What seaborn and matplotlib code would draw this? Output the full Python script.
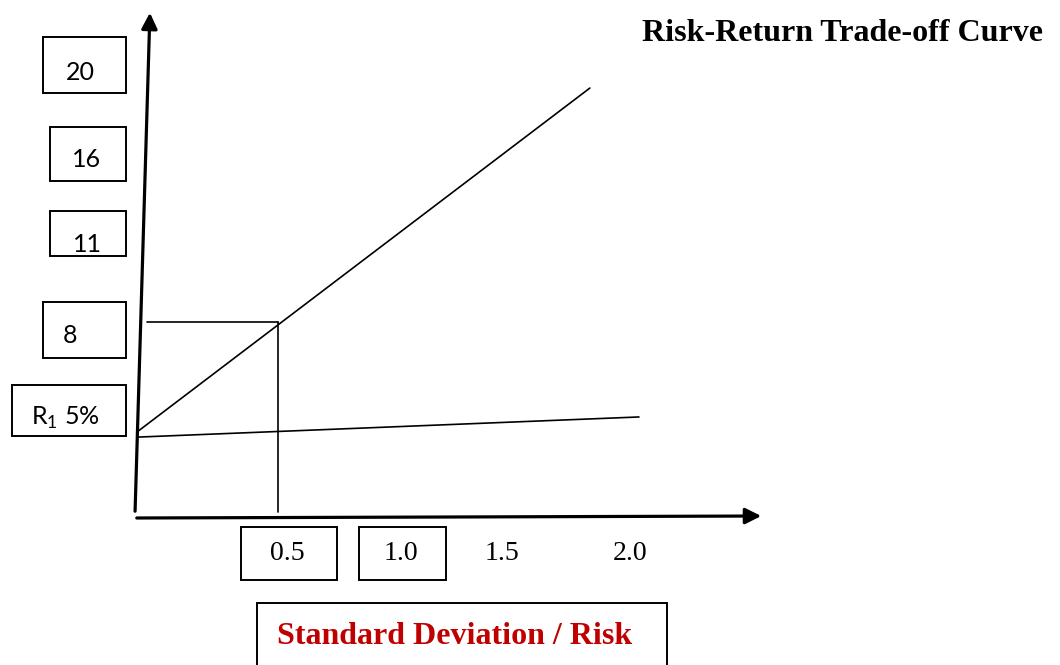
import seaborn as sns
import matplotlib.pyplot as plt
import matplotlib.patches as mpatches
import pandas as pd

# values
risk_free = 5.0
market_risk = 0.5
market_return = 8.0
cml_end_risk = 1.606
cml_end_return = 14.38
flat_start, flat_end, flat_end_risk = 4.86, 5.41, 1.78

return_labels = ["20", "16", "11", "8", "R$_1$ 5%"]
risk_labels = ["0.5", "1.0", "1.5", "2.0"]

sns.set_theme(style="white")
plt.rcParams['mathtext.fontset'] = 'custom'
plt.rcParams['mathtext.rm'] = 'Lato'

W, H = 1060, 665
fig = plt.figure(figsize=(W / 100, H / 100), dpi=100)
ax = fig.add_axes([0, 0, 1, 1])

# pixel -> data helper for the layout of the hand drawn frame
X0, Y0, SX, SY = 137, 432, 282, 36.67


def P(px, py):
    return (px - X0) / SX, risk_free + (Y0 - py) / SY


ax.set_xlim(P(0, 0)[0], P(W, 0)[0])
ax.set_ylim(P(0, H)[1], P(0, 0)[1])
ax.axis('off')

# capital market line and the flat line
cml = pd.DataFrame({'risk': [0, cml_end_risk], 'ret': [risk_free, cml_end_return]})
flat = pd.DataFrame({'risk': [0, flat_end_risk], 'ret': [flat_start, flat_end]})
sns.lineplot(data=cml, x='risk', y='ret', ax=ax, color='black', lw=1.2, sort=False)
sns.lineplot(data=flat, x='risk', y='ret', ax=ax, color='black', lw=1.2, sort=False)

# drop lines to the market point
ax.plot([P(147, 0)[0], market_risk], [market_return, market_return], color='black', lw=1.2)
ax.plot([market_risk, market_risk], [market_return, P(0, 512)[1]], color='black', lw=1.2)

# axes with arrows
ax.annotate('', xy=P(150, 10), xytext=P(135, 514),
            arrowprops=dict(arrowstyle='-|>', color='black', lw=2.3, mutation_scale=24))
ax.annotate('', xy=P(764, 516), xytext=P(134, 518),
            arrowprops=dict(arrowstyle='-|>', color='black', lw=2.3, mutation_scale=24))


def box(x1, y1, x2, y2):
    a, b = P(x1, y2)
    c, d = P(x2, y1)
    ax.add_patch(mpatches.Rectangle((a, b), c - a, d - b, fill=False,
                                    ec='black', lw=1.4, clip_on=False))


# return labels in boxes
ybox = [(43, 37, 126, 93), (50, 127, 126, 181), (50, 211, 126, 256),
        (43, 302, 126, 358), (12, 385, 126, 436)]
ytxt = [(80, 72), (87, 159), (87, 244), (70, 335), (65, 418)]
for lab, bx, (tx, ty) in zip(return_labels, ybox, ytxt):
    box(*bx)
    ax.text(*P(tx, ty), lab, ha='center', va='center', fontsize=18,
            family=['Lato', 'DejaVu Sans'], color='black')

# risk labels
xtxt = [287, 401, 502, 630]
for lab, tx in zip(risk_labels, xtxt):
    ax.text(*P(tx, 553), lab, ha='center', va='center', fontsize=20,
            family='Liberation Serif', color='black')
box(241, 527, 337, 580)
box(359, 527, 446, 580)

# axis title box
box(257, 603, 667, 700)
ax.text(*P(455, 637), 'Standard Deviation / Risk', ha='center', va='center',
        fontsize=23, fontweight='bold', family='Liberation Serif', color='#C00000')

ax.text(*P(843, 33), 'Risk-Return Trade-off Curve', ha='center', va='center',
        fontsize=23, fontweight='bold', family='Liberation Serif', color='black')

fig.savefig('out.png', dpi=100)
